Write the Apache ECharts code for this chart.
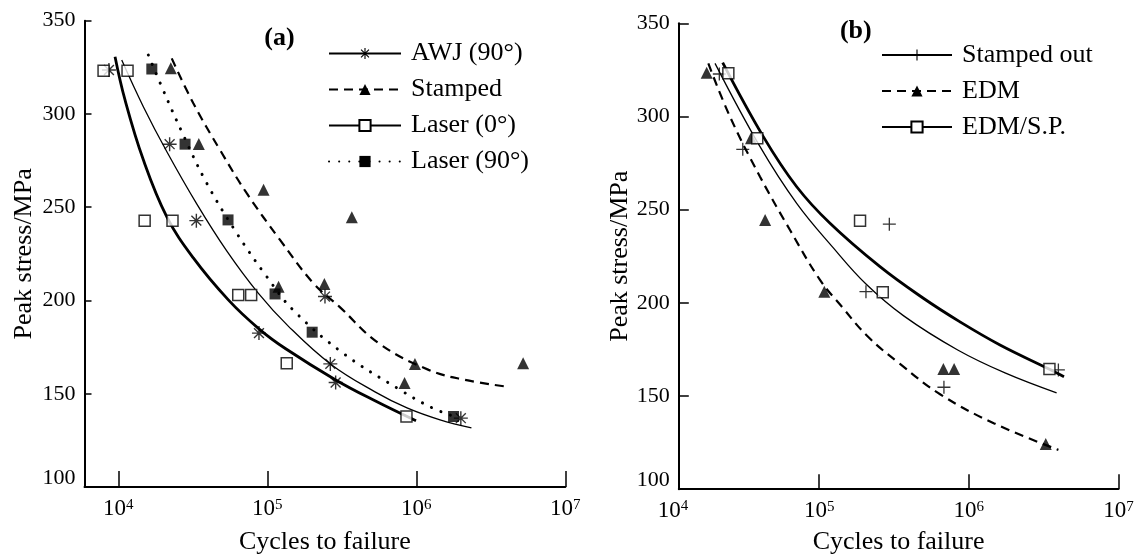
<!DOCTYPE html>
<html>
<head>
<meta charset="utf-8">
<script src="https://cdn.jsdelivr.net/npm/echarts@6/dist/echarts.min.js"></script>
<style>
html,body{margin:0;padding:0;background:#fff;}
#chart{width:1142px;height:556px;}
</style>
</head>
<body>
<div id="chart"></div>
<script>
// ---------- Panel (a) measured points [cycles, MPa] ----------
const awjPts = [[8650,323.6],[22100,283.8],[33400,242.8],[87900,182.5],[243800,202.1],[264800,166],[287500,156],[1990000,136.9]];
const stampedPts = [[22500,324.5],[34700,283.9],[94400,259.3],[369000,244.6],[119000,207.4],[241500,208.9],[979000,165.9],[5210000,166.4],[834000,155.7]];
const laser0Pts = [[7960,323.2],[11530,323.2],[15020,242.8],[23100,242.8],[63800,203],[77900,203],[135000,166.4],[859000,137.8]];
const laser90Pts = [[16780,324.1],[28050,283.8],[54500,243.2],[112700,203.5],[200000,183],[1778000,137.8]];

// ---------- Panel (a) fitted curves ----------
const awjCurve = [[10540,328.9],[14720,303.9],[21220,279.6],[33590,251.8],[53400,226.6],[86610,204.1],[137700,186.4],[265100,166.0],[528200,151.0],[866100,142.4],[1443000,136.0],[2344000,131.7]];
const stampedCurve = [[22830,329.8],[31870,305.7],[48140,280.7],[72740,257.5],[121700,232.5],[203500,209.3],[304200,196.7],[558500,177.1],[1209000,162.8],[2100000,157.5],[3963000,153.9]];
const laser0Curve = [[9504,330.7],[11090,307.5],[14720,275.4],[21120,245.0],[31870,222.8],[54740,200.3],[87830,184.8],[132900,174.1],[287800,157.4],[528200,146.2],[995500,135.5]];
const laser90Curve = [[15900,331.6],[19560,314.6],[26640,290.5],[39200,262.9],[62310,236.1],[99080,212.8],[148500,195.0],[321700,171.8],[777700,152.1],[1236000,143.0],[1736000,138.2]];

// ---------- Panel (b) measured points ----------
const stampedOutPts = [[21500,322.8],[30840,282.4],[294300,242.2],[205400,206],[682000,154.7],[3970000,164]];
const edmPts = [[17700,323.5],[35000,288.3],[43500,244.5],[108200,206],[676000,164.5],[798000,164.5],[3270000,124.3]];
const edmSpPts = [[24700,323.2],[38550,288.3],[187500,244.1],[266000,205.7],[3460000,164.5]];

// ---------- Panel (b) fitted curves ----------
const stampedOutCurve = [[20120,328.5],[40220,283.8],[70720,253.4],[124300,229.5],[205500,210.1],[367200,193.0],[843100,174.7],[1746000,162.4],[3863000,151.7]];
const edmCurve = [[18150,328.5],[25330,299.9],[40220,267.7],[63800,239.1],[101200,212.3],[141400,198.0],[211300,181.9],[346800,167.2],[639000,151.1],[1467000,135.4],[3972000,121.1]];
const edmSpCurve = [[22640,328.9],[42300,289.2],[70720,262.3],[118100,242.7],[254900,219.4],[494100,202.6],[873600,189.8],[1617000,177.4],[3437000,164.5],[4329000,160.4]];

// ---------- Axes / labels ----------
const xRangeA = [5929, 1e7];
const xRangeB = [11522, 1e7];
const yRange = [100, 350];
const yStep = 50;
const legendA = ['AWJ (90°)','Stamped','Laser (0°)','Laser (90°)'];
const legendB = ['Stamped out','EDM','EDM/S.P.'];
const xName = 'Cycles to failure';
const yName = 'Peak stress/MPa';

const FONT = 'Liberation Serif';
const asterisk = 'path://M-0.6,-6L0.6,-6L0.6,6L-0.6,6Z M-6,-0.6L6,-0.6L6,0.6L-6,0.6Z M-3.82,-4.66L4.66,3.82L3.82,4.66L-4.66,-3.82Z M-3.82,4.66L-4.66,3.82L3.82,-4.66L4.66,-3.82Z';
const plus = 'path://M-0.6,-6L0.6,-6L0.6,6L-0.6,6Z M-6,-0.6L6,-0.6L6,0.6L-6,0.6Z';

const supRich = {
  b: {fontSize: 23, fontFamily: FONT, color: '#000'},
  s: {fontSize: 15, fontFamily: FONT, color: '#000', verticalAlign: 'top'}
};
function powLabel(v) {
  const e = Math.log10(v);
  const r = Math.round(e);
  if (Math.abs(e - r) > 1e-6) return '';
  return '{b|10}{s|' + r + '}';
}
function xAxisCfg(idx, range, tickLen, gap) {
  return {
    type: 'log', logBase: 10, gridIndex: idx, min: range[0], max: range[1],
    name: xName, nameLocation: 'middle', nameGap: gap,
    nameTextStyle: {fontFamily: FONT, fontSize: 26, color: '#000'},
    axisLine: {show: true, lineStyle: {color: '#000', width: 2}},
    axisTick: {show: true, inside: true, length: tickLen, lineStyle: {color: '#000', width: 1.5}},
    minorTick: {show: false},
    splitLine: {show: false},
    axisLabel: {formatter: powLabel, rich: supRich, margin: 10.5, showMinLabel: true, showMaxLabel: true}
  };
}
function yAxisCfg(idx, tickLen, gap) {
  return {
    type: 'value', gridIndex: idx, min: yRange[0], max: yRange[1], interval: yStep,
    name: yName, nameLocation: 'middle', nameGap: gap, nameRotate: 90,
    nameTextStyle: {fontFamily: FONT, fontSize: 26, color: '#000'},
    axisLine: {show: true, lineStyle: {color: '#000', width: 2}},
    axisTick: {show: true, inside: true, length: tickLen, lineStyle: {color: '#000', width: 1.5}},
    splitLine: {show: false},
    axisLabel: {
      fontFamily: FONT, fontSize: 22, color: '#000', margin: 9,
      formatter: v => v === yRange[0] ? '{lo|' + v + '}' : String(v),
      rich: {lo: {fontFamily: FONT, fontSize: 22, color: '#000', padding: [0, 0, 17, 0]}}
    }
  };
}
function curve(name, data, ax, lineStyle, symbol, itemStyle, size) {
  return {
    type: 'line', name: name, data: data, xAxisIndex: ax, yAxisIndex: ax,
    smooth: 0.4, symbol: symbol, symbolSize: size, showSymbol: false,
    lineStyle: Object.assign({color: '#000'}, lineStyle),
    itemStyle: itemStyle, z: 2, silent: true
  };
}
function pts(name, data, ax, symbol, itemStyle, size) {
  return {
    type: 'scatter', name: name, data: data, xAxisIndex: ax, yAxisIndex: ax,
    symbol: symbol, symbolSize: size, itemStyle: itemStyle, z: 3, silent: true
  };
}
const solidBlack = {color: '#000'};
const hollow = {color: '#fff', borderColor: '#000', borderWidth: 1.5};
const thin = {width: 1.3, type: 'solid'};
const thick = {width: 2.8, type: 'solid'};
const dashed = {width: 2.2, type: [9, 6]};
const dotted = {width: 3, type: [0.1, 10], cap: 'round'};

const legendText = {fontFamily: FONT, fontSize: 26, color: '#000', lineHeight: 26, padding: [0, 0, 0, 5]};

const option = {
  animation: false,
  backgroundColor: '#fff',
  grid: [
    {left: 84.5, top: 20.7, width: 480.8, height: 466.3, containLabel: false, outerBoundsMode: 'none'},
    {left: 678.8, top: 23.3, width: 439.6, height: 465.9, containLabel: false, outerBoundsMode: 'none'}
  ],
  xAxis: [xAxisCfg(0, xRangeA, 16, 42), xAxisCfg(1, xRangeB, 15, 40)],
  yAxis: [yAxisCfg(0, 7, 47), yAxisCfg(1, 10, 46)],
  legend: [
    {orient: 'vertical', left: 328, top: 40.5, padding: 0, itemWidth: 72, itemHeight: 14, itemGap: 10,
     data: legendA, textStyle: legendText, selectedMode: false},
    {orient: 'vertical', left: 881, top: 42, padding: 0, itemWidth: 70, itemHeight: 14, itemGap: 10,
     data: legendB, textStyle: legendText, selectedMode: false}
  ],
  graphic: [
    {type: 'text', x: 279.5, y: 38.3, style: {text: '(a)', fontFamily: FONT, fontSize: 26, fontWeight: 'bold', fill: '#000', align: 'center', verticalAlign: 'middle'}},
    {type: 'text', x: 855.8, y: 31.7, style: {text: '(b)', fontFamily: FONT, fontSize: 26, fontWeight: 'bold', fill: '#000', align: 'center', verticalAlign: 'middle'}},
    {type: 'text', x: 673, y: 499, style: {text: '{b|10}{s|4}', rich: supRich, align: 'center', verticalAlign: 'top'}}
  ],
  series: [
    curve('AWJ (90°)', awjCurve, 0, thin, asterisk, solidBlack, 14),
    curve('Stamped', stampedCurve, 0, dashed, 'triangle', solidBlack, 12),
    curve('Laser (0°)', laser0Curve, 0, thick, 'rect', hollow, 11),
    curve('Laser (90°)', laser90Curve, 0, dotted, 'rect', solidBlack, 11),
    pts('AWJ pts', awjPts, 0, asterisk, solidBlack, 14),
    pts('Stamped pts', stampedPts, 0, 'triangle', solidBlack, 12),
    pts('Laser0 pts', laser0Pts, 0, 'rect', hollow, 11),
    pts('Laser90 pts', laser90Pts, 0, 'rect', solidBlack, 11),
    curve('Stamped out', stampedOutCurve, 1, thin, plus, solidBlack, 13),
    curve('EDM', edmCurve, 1, dashed, 'triangle', solidBlack, 12),
    curve('EDM/S.P.', edmSpCurve, 1, thick, 'rect', hollow, 11),
    pts('Stamped out pts', stampedOutPts, 1, plus, solidBlack, 13),
    pts('EDM pts', edmPts, 1, 'triangle', solidBlack, 12),
    pts('EDM/S.P. pts', edmSpPts, 1, 'rect', hollow, 11)
  ]
};
const chart = echarts.init(document.getElementById('chart'), null, {renderer: 'canvas'});
chart.setOption(option);
</script>
</body>
</html>
